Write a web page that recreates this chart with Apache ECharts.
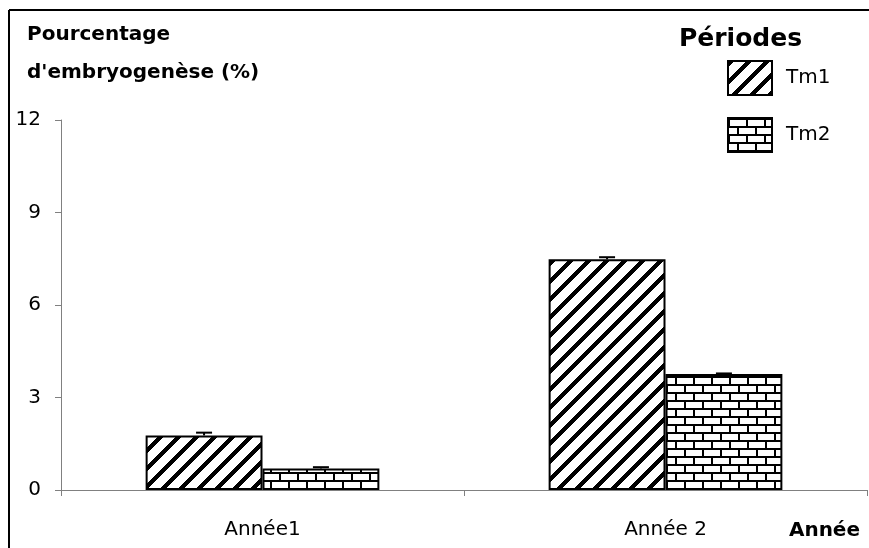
<!DOCTYPE html>
<html>
<head>
<meta charset="utf-8">
<title>Pourcentage d'embryogenèse</title>
<script src="https://cdn.jsdelivr.net/npm/echarts@6/dist/echarts.min.js"></script>
<style>
  html, body { margin: 0; padding: 0; background: #fff; overflow: hidden; }
  #chart { position: absolute; left: 0; top: 0; width: 869px; height: 548px; }
</style>
</head>
<body>
<div id="chart"></div>
<script>
// Values per year and period (mean percentage, with standard error)
const categories = ['Année1', 'Année 2'];
const periods = ['Tm1', 'Tm2'];
const tm1 = [1.77, 7.48];
const tm2 = [0.70, 3.76];
const tm1Err = [0.09, 0.07];
const tm2Err = [0.04, 0.02];
const yTicks = [0, 3, 6, 9, 12];

const FONT = 'DejaVu Sans';
const CAT_GAP = 0.42;

// Diagonal stripe fill ("/" direction), built pixel by pixel so tiles join seamlessly
function stripePattern() {
  const p = 18, band = 6;
  const c = document.createElement('canvas');
  c.width = p; c.height = p;
  const ctx = c.getContext('2d');
  const img = ctx.createImageData(p, p);
  for (let y = 0; y < p; y++) {
    for (let x = 0; x < p; x++) {
      const k = ((x + y) % p);
      const v = k < band ? 0 : 255;
      const o = (y * p + x) * 4;
      img.data[o] = v; img.data[o + 1] = v; img.data[o + 2] = v; img.data[o + 3] = 255;
    }
  }
  ctx.putImageData(img, 0, 0);
  return c;
}

// Brick wall fill
function brickPattern() {
  const w = 18, h = 16, row = 8, m = 2;
  const c = document.createElement('canvas');
  c.width = w; c.height = h;
  const ctx = c.getContext('2d');
  ctx.fillStyle = '#fff';
  ctx.fillRect(0, 0, w, h);
  ctx.fillStyle = '#000';
  ctx.fillRect(0, 0, w, m);
  ctx.fillRect(0, row, w, m);
  ctx.fillRect(0, 0, m, row);
  ctx.fillRect(w / 2, row, m, row);
  return c;
}

const fills = [
  { image: stripePattern(), repeat: 'repeat' },
  { image: brickPattern(), repeat: 'repeat' }
];

function errorSeries(means, errs, side) {
  return {
    type: 'custom',
    z: 10,
    silent: true,
    encode: { x: 0, y: 1 },
    data: means.map((v, i) => [i, v, errs[i]]),
    renderItem: function (params, api) {
      const catW = api.size([1, 0])[0];
      const barW = catW * (1 - CAT_GAP) / 2;
      const base = api.coord([api.value(0), api.value(1)]);
      const top = api.coord([api.value(0), api.value(1) + api.value(2)]);
      const x = base[0] + side * barW / 2;
      const cap = 8;
      const style = { stroke: '#000', lineWidth: 2 };
      return {
        type: 'group',
        children: [
          { type: 'line', shape: { x1: x, y1: base[1], x2: x, y2: top[1] }, style: style },
          { type: 'line', shape: { x1: x - cap, y1: top[1], x2: x + cap, y2: top[1] }, style: style }
        ]
      };
    }
  };
}

const chart = echarts.init(document.getElementById('chart'), null, { renderer: 'canvas' });

chart.setOption({
  animation: false,
  backgroundColor: '#fff',
  textStyle: { fontFamily: FONT },
  grid: { left: 61, right: 2, top: 120, bottom: 58, containLabel: false },
  title: [
    {
      text: "Pourcentage\nd'embryogenèse (%)",
      left: 22, top: 11,
      textStyle: { fontFamily: FONT, fontSize: 20, fontWeight: 'bold', color: '#000', lineHeight: 38 }
    },
    {
      text: 'Périodes',
      left: 674, top: 22,
      textStyle: { fontFamily: FONT, fontSize: 25, fontWeight: 'bold', color: '#000' }
    },
    {
      text: 'Année',
      right: 4, top: 516,
      textStyle: { fontFamily: FONT, fontSize: 20, fontWeight: 'bold', color: '#000' }
    }
  ],
  legend: {
    orient: 'vertical',
    left: 722, top: 55,
    itemWidth: 44, itemHeight: 34, itemGap: 21,
    icon: 'rect',
    data: periods,
    textStyle: { fontFamily: FONT, fontSize: 20, color: '#000', padding: [0, 0, 0, 9] },
    itemStyle: { borderColor: '#000', borderWidth: 2 }
  },
  xAxis: {
    type: 'category',
    data: categories,
    axisLine: { lineStyle: { color: '#808080', width: 1 } },
    axisTick: { show: true, alignWithLabel: false, length: 6, lineStyle: { color: '#808080' } },
    axisLabel: { color: '#000', fontFamily: FONT, fontSize: 20, margin: 30 },
    splitLine: { show: false }
  },
  yAxis: {
    type: 'value',
    min: yTicks[0], max: yTicks[yTicks.length - 1], interval: yTicks[1] - yTicks[0],
    axisLine: { show: true, lineStyle: { color: '#808080', width: 1 } },
    axisTick: { show: true, length: 6, lineStyle: { color: '#808080' } },
    axisLabel: { color: '#000', fontFamily: FONT, fontSize: 20, margin: 20 },
    splitLine: { show: false }
  },
  series: [
    {
      name: periods[0],
      type: 'bar',
      data: tm1,
      barGap: '0%',
      barCategoryGap: (CAT_GAP * 100) + '%',
      itemStyle: { color: fills[0], borderColor: '#000', borderWidth: 2 }
    },
    {
      name: periods[1],
      type: 'bar',
      data: tm2,
      barGap: '0%',
      barCategoryGap: (CAT_GAP * 100) + '%',
      itemStyle: { color: fills[1], borderColor: '#000', borderWidth: 2 }
    },
    errorSeries(tm1, tm1Err, -1),
    errorSeries(tm2, tm2Err, 1)
  ],
  graphic: [
    {
      // Outer frame: left edge and top edge
      type: 'line',
      silent: true,
      z: 100,
      shape: { x1: 9, y1: 10, x2: 9, y2: 548 },
      style: { stroke: '#000', lineWidth: 2 }
    },
    {
      type: 'line',
      silent: true,
      z: 100,
      shape: { x1: 9, y1: 10, x2: 869, y2: 10 },
      style: { stroke: '#000', lineWidth: 2 }
    }
  ]
});
</script>
</body>
</html>
